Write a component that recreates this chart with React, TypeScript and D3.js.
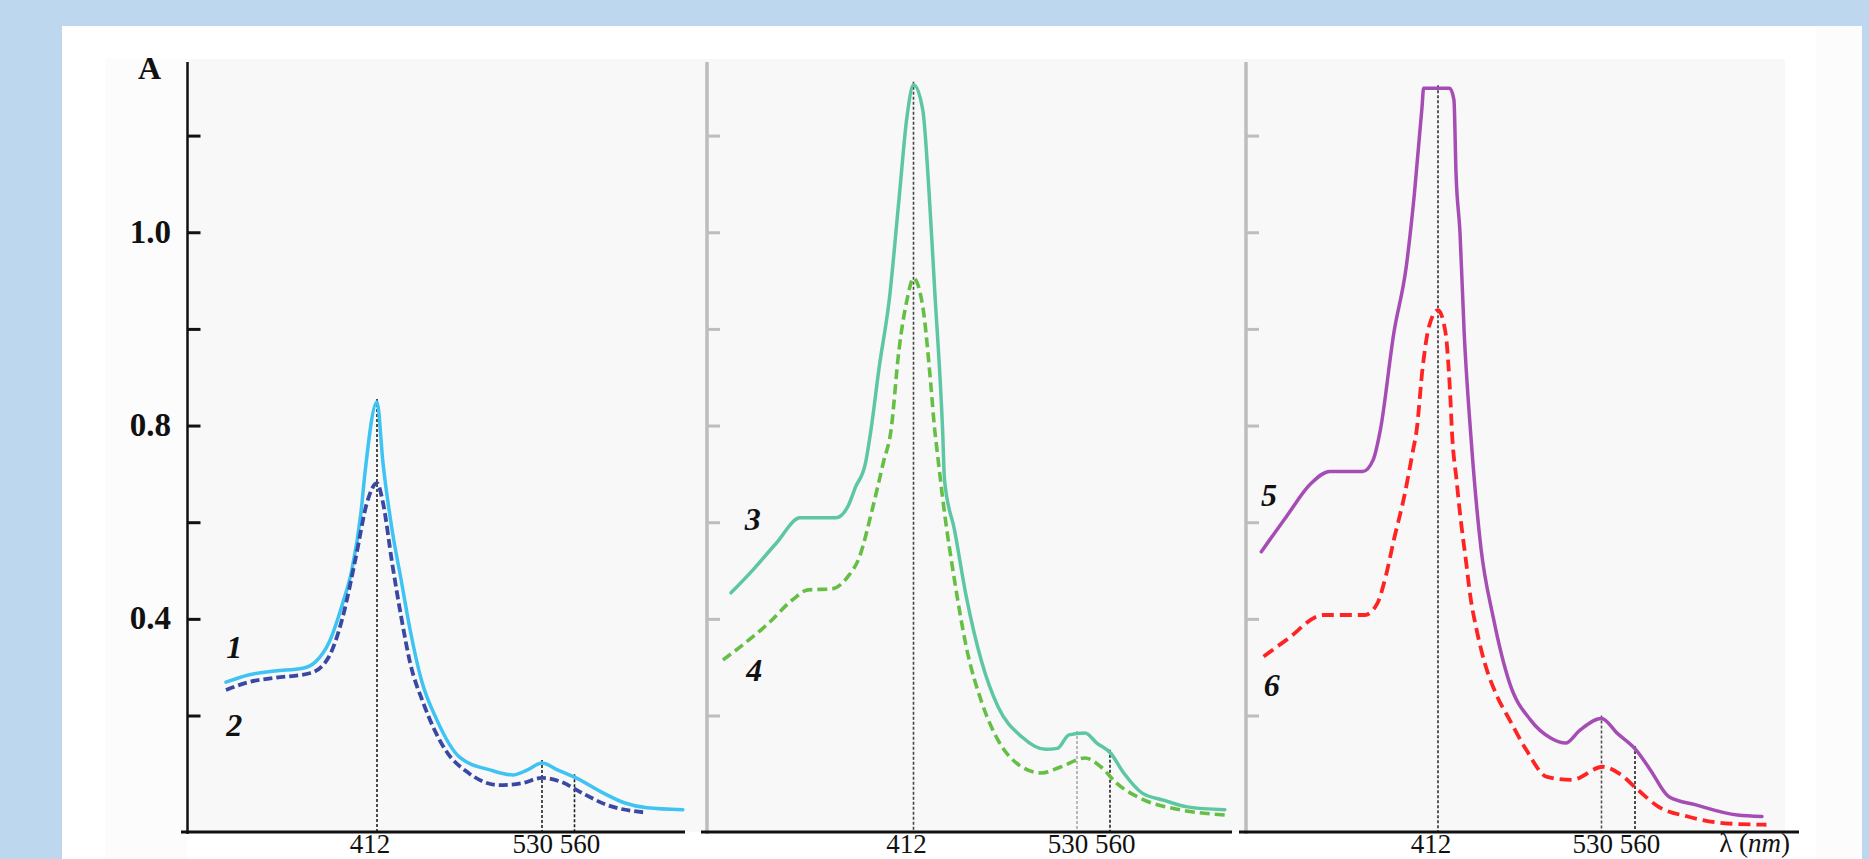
import * as d3 from 'd3';

// absorbance spectra, [wavelength nm, A]
const SERIES_1: [number, number][] = [
  [304, 0.27], [320, 0.285], [339, 0.293], [359, 0.299], [368, 0.312], [377.5, 0.351],
  [387.5, 0.434], [394, 0.502], [400.5, 0.62], [403.4, 0.703], [412, 0.85], [416.3, 0.723],
  [422.8, 0.585], [429.3, 0.481], [435.7, 0.378], [443.7, 0.275], [454.8, 0.192], [471, 0.115],
  [493.3, 0.088], [509.1, 0.078], [519.2, 0.088], [530, 0.103], [544.8, 0.088], [561.4, 0.072],
  [586.3, 0.041], [606.6, 0.02], [626.9, 0.01], [660, 0.006],
];
const SERIES_2: [number, number][] = [
  [304, 0.254], [320, 0.27], [339, 0.279], [364.5, 0.289], [377.5, 0.322], [387.5, 0.405],
  [396.9, 0.529], [404.8, 0.641], [412, 0.682], [416.3, 0.641], [422.8, 0.517], [429.3, 0.405],
  [435.7, 0.31], [445.1, 0.227], [460.9, 0.13], [477.5, 0.082], [499.8, 0.057], [515.6, 0.061],
  [530, 0.072], [548.5, 0.063], [565, 0.043], [590, 0.016], [626.9, 0],
];
const SERIES_3: [number, number][] = [
  [280.3, 0.455], [296, 0.502], [313.1, 0.558], [330.1, 0.61], [355.9, 0.61], [364.5, 0.633],
  [370.2, 0.674], [377.4, 0.724], [381.3, 0.792], [387.3, 0.923], [394.5, 1.061], [401.5, 1.268],
  [407.3, 1.44], [412, 1.506], [418.7, 1.454], [423, 1.295], [427.3, 1.081], [433, 0.792],
  [434.4, 0.688], [441.6, 0.585], [450.1, 0.447], [461.4, 0.31], [473, 0.219], [490.1, 0.157],
  [507.2, 0.131], [515.8, 0.133], [524.2, 0.161], [537.3, 0.165], [548, 0.144], [560.6, 0.123],
  [572.5, 0.082], [589, 0.041], [608.6, 0.026], [630.3, 0.012], [664.4, 0.006],
];
const SERIES_4: [number, number][] = [
  [274.5, 0.316], [290.4, 0.351], [307.4, 0.392], [324.5, 0.44], [335.9, 0.461], [353.1, 0.463],
  [364.5, 0.488], [373.1, 0.53], [381.6, 0.62], [390.2, 0.724], [395.8, 0.792], [401.5, 0.957],
  [407.3, 1.061], [412, 1.106], [418.7, 1.047], [424.4, 0.889], [427.3, 0.792], [428.7, 0.757],
  [434.4, 0.62], [441.6, 0.481], [450.1, 0.343], [461.4, 0.227], [473, 0.15], [490.1, 0.095],
  [504.4, 0.082], [518.5, 0.095], [537.3, 0.113], [551.6, 0.095], [566, 0.061], [591.2, 0.026],
  [623.6, 0.006], [666.4, -0.005],
];
const SERIES_5: [number, number][] = [
  [284.5, 0.54], [302.4, 0.612], [320.3, 0.681], [333.8, 0.706], [357.7, 0.706], [365.2, 0.73],
  [370.4, 0.792], [380.1, 0.992], [389.1, 1.13], [395, 1.282], [400.5, 1.461], [401.6, 1.499],
  [420.4, 1.499], [423.5, 1.475], [425, 1.324], [427.9, 1.199], [430.9, 0.992], [435.4, 0.792],
  [442.9, 0.55], [451.8, 0.405], [463.7, 0.268], [478.7, 0.192], [493.6, 0.154], [504.1, 0.144],
  [514.5, 0.171], [530, 0.195], [544.2, 0.164], [560.9, 0.13], [573.9, 0.088], [590.4, 0.033],
  [614.6, 0.016], [651.7, -0.005], [673.7, -0.008],
];
const SERIES_6: [number, number][] = [
  [286.1, 0.323], [302.4, 0.357], [329.4, 0.409], [359.2, 0.409], [368.2, 0.433], [374.2, 0.488],
  [380.1, 0.564], [387.6, 0.654], [393.6, 0.744], [396.6, 0.792], [401, 0.923], [405.5, 1.006],
  [412, 1.04], [417.5, 0.992], [419.6, 0.923], [421, 0.854], [422, 0.792], [425.4, 0.688],
  [427.9, 0.619], [432.4, 0.516], [435.4, 0.447], [439.9, 0.378], [445.8, 0.309], [454.8, 0.24],
  [463.7, 0.192], [475.7, 0.13], [490.7, 0.074], [508.4, 0.068], [531.3, 0.095], [546, 0.081],
  [562.7, 0.047], [581.2, 0.012], [607.2, -0.008], [640.6, -0.022], [677.7, -0.025],
];

// tick labels exactly as printed in the figure
const Y_TICKS = [0.2, 0.4, 0.6, 0.8, 1.0, 1.2, 1.4];
const Y_TICK_LABELS = ['', '0.4', '', '0.8', '', '1.0', ''];
const MARKS = [412, 530, 560];
const X_TICK_GROUPS = [
  { label: '412', values: [412] },
  { label: '530 560', values: [530, 560] },
];

const W = 1869;
const H = 859;
const X_AXIS_Y = 832;
const SERIF = '"Liberation Serif", "Times New Roman", serif';

const y = d3.scaleLinear().domain([-0.04, 1.55]).range([X_AXIS_Y, 63.6]);

const PANELS = [
  {
    yAxisX: 187.5, axisColour: '#111', axisWidth: 2.5, from: 181, to: 685,
    xRange: [377, 542, 574.5], markColours: ['#222', '#222', '#222'], yLabels: true, unit: false,
    curves: [
      { data: SERIES_1, colour: '#3ec3f2', dash: null, width: 3.5, label: '1', at: [310, 0.343] },
      { data: SERIES_2, colour: '#3949a3', dash: '9,4', width: 3.8, label: '2', at: [310, 0.181] },
    ],
  },
  {
    yAxisX: 707, axisColour: '#bdbdbd', axisWidth: 3.5, from: 701, to: 1232,
    xRange: [913.5, 1077, 1110], markColours: ['#444', '#aaa', '#222'], yLabels: false, unit: false,
    curves: [
      { data: SERIES_3, colour: '#5dc6a3', dash: null, width: 3.5, label: '3', at: [296, 0.608] },
      { data: SERIES_4, colour: '#66bf45', dash: '10,5', width: 3.6, label: '4', at: [297, 0.295] },
    ],
  },
  {
    yAxisX: 1246, axisColour: '#bdbdbd', axisWidth: 3.5, from: 1239, to: 1799,
    xRange: [1438, 1601.5, 1635], markColours: ['#333', '#555', '#222'], yLabels: false, unit: true,
    curves: [
      { data: SERIES_5, colour: '#a54db4', dash: null, width: 3.5, label: '5', at: [290, 0.657] },
      { data: SERIES_6, colour: '#ff2424', dash: '12,6', width: 3.8, label: '6', at: [292, 0.264] },
    ],
  },
];

function valueAt(data: [number, number][], wl: number) {
  const i = d3.bisector((d: [number, number]) => d[0]).left(data, wl);
  if (i <= 0) return data[0][1];
  if (i >= data.length) return data[data.length - 1][1];
  const [x0, y0] = data[i - 1];
  const [x1, y1] = data[i];
  return y0 + ((wl - x0) / (x1 - x0)) * (y1 - y0);
}

function Panel({ p }: { p: (typeof PANELS)[number] }) {
  const x = d3.scaleLinear().domain(MARKS).range(p.xRange);
  const line = d3.line<[number, number]>()
    .x(d => x(d[0]))
    .y(d => y(d[1]))
    .curve(d3.curveMonotoneX);
  const top = p.curves[0].data;

  return (
    <g>
      {/* marker lines */}
      {MARKS.map((m, i) => (
        <line key={m} x1={x(m)} x2={x(m)} y1={y(valueAt(top, m)) - 3} y2={X_AXIS_Y}
          stroke={p.markColours[i]} strokeWidth={1.6} strokeDasharray="3,2" />
      ))}

      {p.curves.map(c => (
        <path key={c.label} d={line(c.data) ?? ''} fill="none" stroke={c.colour}
          strokeWidth={c.width} strokeDasharray={c.dash ?? undefined}
          strokeLinejoin="round" strokeLinecap={c.dash ? 'butt' : 'round'} />
      ))}

      {p.curves.map(c => (
        <text key={'l' + c.label} x={x(c.at[0])} y={y(c.at[1])} dominantBaseline="central"
          textAnchor="middle" fontFamily={SERIF} fontSize={32} fontWeight="bold"
          fontStyle="italic" fill="#111">{c.label}</text>
      ))}

      {/* y axis */}
      <line x1={p.yAxisX} x2={p.yAxisX} y1={62} y2={X_AXIS_Y + 2}
        stroke={p.axisColour} strokeWidth={p.axisWidth} />
      {Y_TICKS.map((t, i) => (
        <g key={t}>
          <line x1={p.yAxisX} x2={p.yAxisX + 13} y1={y(t)} y2={y(t)}
            stroke={p.axisColour} strokeWidth={3} />
          {p.yLabels && Y_TICK_LABELS[i] && (
            <text x={171} y={y(t) + 10} textAnchor="end" fontFamily={SERIF} fontSize={33}
              fontWeight="bold" fill="#111">{Y_TICK_LABELS[i]}</text>
          )}
        </g>
      ))}

      {/* x axis */}
      <line x1={p.from} x2={p.to} y1={X_AXIS_Y} y2={X_AXIS_Y} stroke="#111" strokeWidth={3} />
      {X_TICK_GROUPS.map(g => (
        <text key={g.label} x={d3.mean(g.values.map(v => x(v)))! - (g.values.length === 1 ? 7 : 2)}
          y={853} textAnchor="middle" fontFamily={SERIF} fontSize={27} fill="#111">{g.label}</text>
      ))}
      {p.unit && (
        <text x={p.to - 9} y={852} textAnchor="end" fontFamily={SERIF} fontSize={27} fill="#111">
          λ (<tspan fontStyle="italic">nm</tspan>)
        </text>
      )}
    </g>
  );
}

export default function App() {
  return (
    <svg width={W} height={H} style={{ position: 'absolute', left: 0, top: 0, display: 'block' }}>
      <rect width={W} height={H} fill="#bdd7ee" />
      <rect x={62} y={26} width={1800} height={H} fill="#ffffff" />
      <rect x={105} y={59} width={82} height={H} fill="#fcfcfc" />
      <rect x={1816} y={26} width={46} height={H} fill="#fcfcfc" />
      <rect x={188} y={59} width={1597} height={X_AXIS_Y - 59} fill="#f8f8f8" />

      <text x={161} y={79} textAnchor="end" fontFamily={SERIF} fontSize={32} fontWeight="bold"
        fill="#111">A</text>

      {PANELS.map((p, i) => <Panel key={i} p={p} />)}
    </svg>
  );
}
